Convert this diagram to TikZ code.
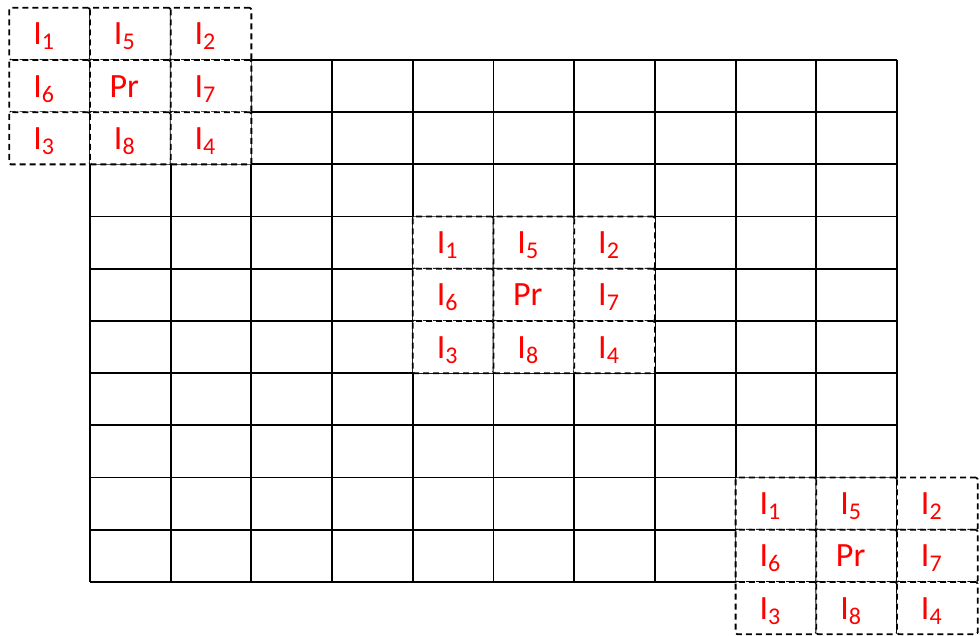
\documentclass[tikz,border=0pt]{standalone}
\usepackage{fontspec}
\setmainfont{Carlito}
\newcommand\idx[1]{I\raisebox{-5pt}[0pt][0pt]{\fontsize{24}{24}\selectfont#1}}

\begin{document}
\begin{tikzpicture}[x=80.7pt,y=-52.2pt,line join=round,
  gridline/.style={line width=1.8pt},
  cellbox/.style={draw,line width=1.8pt,dash pattern=on 6pt off 4pt,fill=white,rounded corners=1.5pt,minimum width=80.7pt,minimum height=52.2pt,inner sep=0pt},
  lbl/.style={text=red,font=\fontsize{34}{38}\selectfont,xshift=-6pt}]
\useasboundingbox (-1.1152,-1.1494) rectangle (11.0285,11.0345);
% plain 10 x 10 grid
\foreach \i in {0,...,10}{\draw[gridline] (\i,0)--(\i,10);\draw[gridline] (0,\i)--(10,\i);}
% 3 x 3 windows laid over the grid
\foreach \blk/\bx/\by in {tl/-1/-1,mid/4/3,br/8/8}{
  \foreach \lab [count=\k from 0] in {\idx1,\idx5,\idx2,\idx6,Pr,\idx7,\idx3,\idx8,\idx4}{
    \pgfmathtruncatemacro\cc{mod(\k,3)}\pgfmathtruncatemacro\rr{div(\k,3)}
    \node[cellbox,label={[lbl]center:\lab}] (\blk\k) at (\bx+\cc+0.5,\by+\rr+0.5) {};
  }
}
\end{tikzpicture}
\end{document}
